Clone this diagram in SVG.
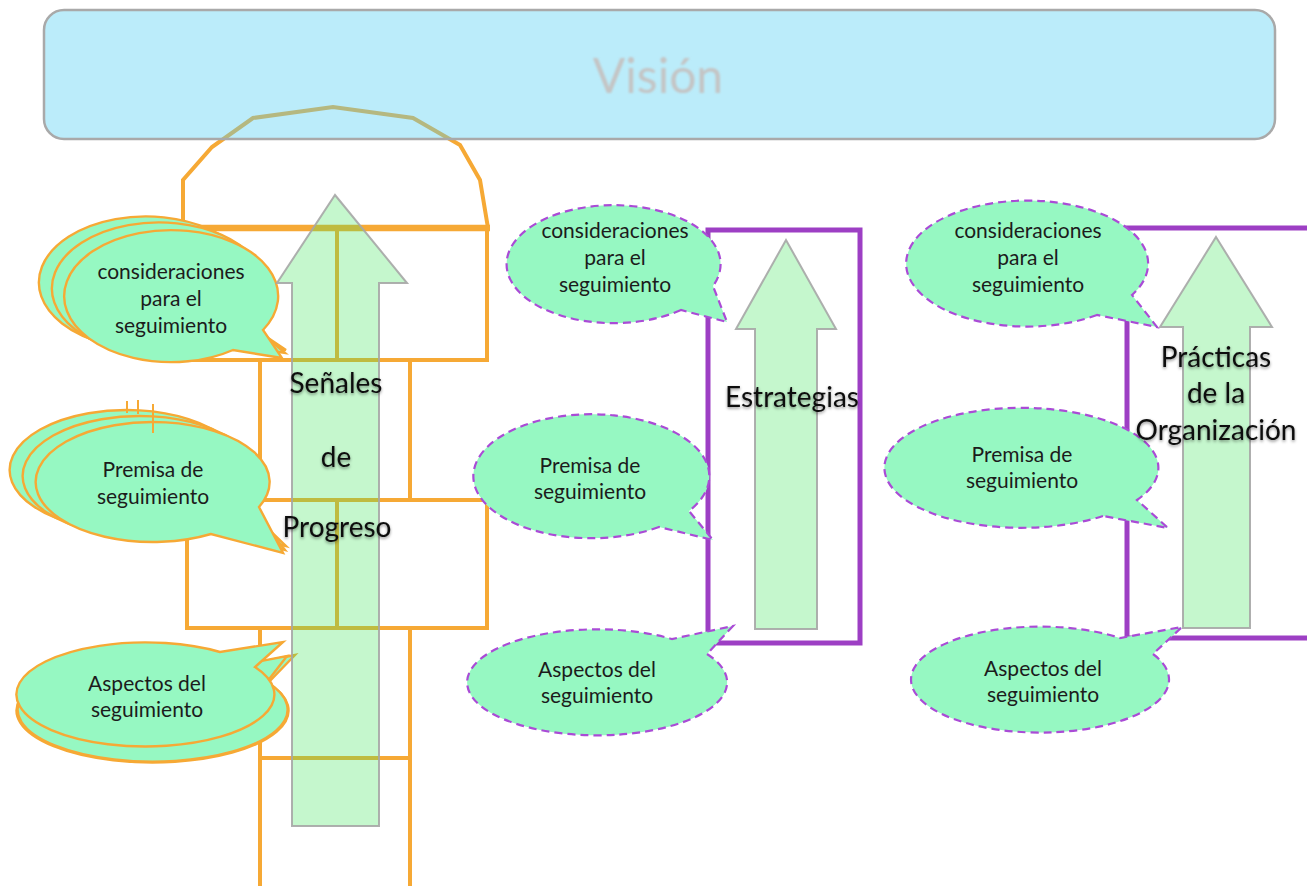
<svg xmlns="http://www.w3.org/2000/svg" width="1307" height="886" viewBox="0 0 1307 886">
<style>
.orange{fill:none;stroke:#f6a935;stroke-width:4;stroke-linejoin:miter}
.purple{fill:none;stroke:#9d3fc4;stroke-width:5}
.bubO{fill:#96f8c2;stroke:#f6a935;stroke-width:2.4}
.bubP{fill:#96f8c2;stroke:#aa4bd6;stroke-width:2.2;stroke-dasharray:8 5}
.arrow{fill:rgb(62,228,88);fill-opacity:0.3;stroke:#a6a6a6;stroke-width:2;stroke-opacity:0.9}
.bt{font-family:Lato,"Open Sans",sans-serif;font-size:21px;fill:#1c1c1c;text-anchor:middle}
.big{font-family:Lato,"Open Sans",sans-serif;font-size:28px;fill:#111;text-anchor:middle}
</style>
<defs>
<filter id="sh" x="-20%" y="-40%" width="140%" height="180%">
<feDropShadow dx="0" dy="1.5" stdDeviation="1.5" flood-color="#000" flood-opacity="0.45"/>
</filter>
<filter id="soft" x="-20%" y="-40%" width="140%" height="180%">
<feGaussianBlur stdDeviation="0.9"/>
</filter>
</defs>
<rect width="1307" height="886" fill="#fff"/>

<g id="progress-structure">
<polyline class="orange" points="183,228 183,180 212,147 253,118 333,107 413,118 460,145 480,180 488,228" stroke-width="4.5"/>
<line x1="181" y1="228" x2="490" y2="228" stroke="#f6a935" stroke-width="6.5"/>
<rect class="orange" x="183" y="228" width="304" height="132"/>
<line class="orange" x1="337" y1="228" x2="337" y2="360"/>
<rect class="orange" x="260" y="360" width="150" height="140"/>
<rect class="orange" x="187" y="500" width="300" height="128"/>
<line class="orange" x1="337" y1="500" x2="337" y2="628"/>
<rect class="orange" x="260" y="628" width="150" height="130"/>
<rect class="orange" x="260" y="758" width="150" height="140"/>
</g>

<g id="strategies-frame">
<rect class="purple" x="708" y="230" width="152" height="413"/>
</g>
<g id="practices-frame">
<rect class="purple" x="1127" y="228" width="185" height="410"/>
</g>

<g id="vision">
<rect x="44" y="10" width="1231" height="129" rx="20" fill="rgb(85,207,242)" fill-opacity="0.4" stroke="#a9a9a9" stroke-width="2.5"/>
<text x="658" y="93" font-family="Lato,'Open Sans',sans-serif" font-size="48" fill="#c4c4c4" text-anchor="middle" filter="url(#soft)">Visión</text>
</g>

<g id="bubble-left-consideraciones">
<path class="bubO" d="M206,337 A107 66 0 1 1 237,317 L286,350 Z"/>
<path class="bubO" d="M219,343 A107 66 0 1 1 250,323 L285,353 Z"/>
<path class="bubO" d="M233,350 A107 66 0 1 1 263,330 L282,358 Z"/>
<text class="bt" x="171" y="279">consideraciones</text>
<text class="bt" x="171" y="306">para el</text>
<text class="bt" x="171" y="333">seguimiento</text>
</g>

<g id="bubble-left-premisa">
<path class="bubO" d="M185,522 A117 60 0 1 1 233,495 L286,546 Z"/>
<path class="bubO" d="M198,528 A117 60 0 1 1 246,501 L285,550 Z"/>
<path class="bubO" d="M211,534 A117 60 0 1 1 259,507 L283,553 Z"/>
<line x1="127" y1="401" x2="127" y2="413" stroke="#f6a935" stroke-width="2"/>
<line x1="138" y1="400" x2="138" y2="414" stroke="#f6a935" stroke-width="2"/>
<line x1="153" y1="404" x2="153" y2="433" stroke="#f6a935" stroke-width="2"/>
<text class="bt" x="153" y="477">Premisa de</text>
<text class="bt" x="153" y="504">seguimiento</text>
</g>

<g id="bubble-left-aspectos">
<path class="bubO" d="M268,683 A136 52 0 1 1 231,668 L295,655 Z"/>
<path class="bubO" d="M267,682 A135 52 0 1 1 230,667 L287,656 Z"/>
<path class="bubO" d="M255,667 A129 52 0 1 1 220,652 L283,642 Z"/>
<text class="bt" x="147" y="691">Aspectos del</text>
<text class="bt" x="147" y="717">seguimiento</text>
</g>

<g id="bubble-mid-consideraciones">
<path class="bubP" d="M681,310 A107 59 0 1 1 713,286 L727,322 Z"/>
<text class="bt" x="615" y="238">consideraciones</text>
<text class="bt" x="615" y="265">para el</text>
<text class="bt" x="615" y="292">seguimiento</text>
</g>

<g id="bubble-mid-premisa">
<path class="bubP" d="M659,527 A118 62 0 1 1 689,511 L713,540 Z"/>
<text class="bt" x="590" y="473">Premisa de</text>
<text class="bt" x="590" y="499">seguimiento</text>
</g>

<g id="bubble-mid-aspectos">
<path class="bubP" d="M707,654 A130 53 0 1 1 672,639 L733,626 Z"/>
<text class="bt" x="597" y="677">Aspectos del</text>
<text class="bt" x="597" y="703">seguimiento</text>
</g>

<g id="bubble-right-consideraciones">
<path class="bubP" d="M1097,315 A121 63 0 1 1 1132,295 L1157,327 Z"/>
<text class="bt" x="1028" y="238">consideraciones</text>
<text class="bt" x="1028" y="265">para el</text>
<text class="bt" x="1028" y="292">seguimiento</text>
</g>

<g id="bubble-right-premisa">
<path class="bubP" d="M1103,516 A137 60 0 1 1 1137,500 L1168,528 Z"/>
<text class="bt" x="1022" y="462">Premisa de</text>
<text class="bt" x="1022" y="488">seguimiento</text>
</g>

<g id="bubble-right-aspectos">
<path class="bubP" d="M1153,654 A129 53 0 1 1 1120,638 L1182,627 Z"/>
<text class="bt" x="1043" y="676">Aspectos del</text>
<text class="bt" x="1043" y="702">seguimiento</text>
</g>

<g id="connectors">
<polygon class="arrow" points="335,195 407,283 379,283 379,826 292,826 292,283 277,283"/>
<polygon class="arrow" points="786,240 836,329 817,329 817,629 755,629 755,329 736,329"/>
<polygon class="arrow" points="1216,237 1272,327 1250,327 1250,628 1183,628 1183,327 1160,327"/>
</g>

<g id="label-progreso" filter="url(#sh)">
<text class="big" x="336" y="393">Señales</text>
<text class="big" x="336" y="467">de</text>
<text class="big" x="337" y="537">Progreso</text>
</g>
<g id="label-estrategias" filter="url(#sh)">
<text class="big" x="792" y="407">Estrategias</text>
</g>
<g id="label-practicas" filter="url(#sh)">
<text class="big" x="1216" y="367">Prácticas</text>
<text class="big" x="1216" y="403">de la</text>
<text class="big" x="1216" y="440">Organización</text>
</g>
</svg>
